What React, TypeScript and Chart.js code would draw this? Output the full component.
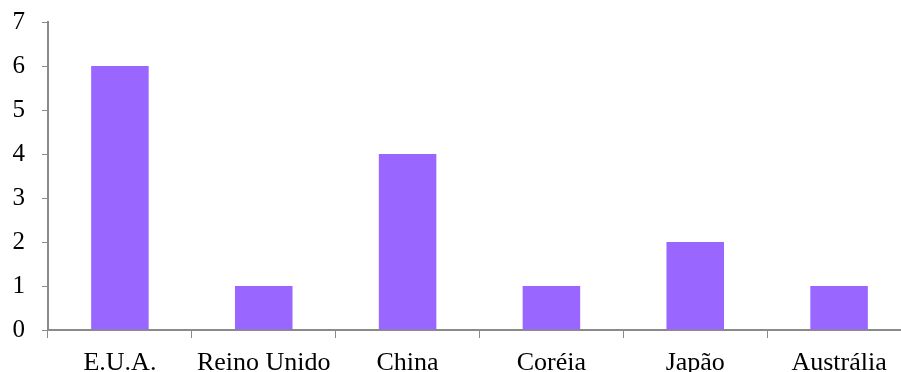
import React, { useEffect, useRef } from "react";
import { Chart, registerables } from "chart.js";

Chart.register(...registerables);

const categories = ["E.U.A.", "Reino Unido", "China", "Coréia", "Japão", "Austrália"];
const values = [6, 1, 4, 1, 2, 1];
const yTicks = [0, 1, 2, 3, 4, 5, 6, 7];

export default function App() {
  const ref = useRef<HTMLCanvasElement | null>(null);
  useEffect(() => {
    if (!ref.current) return;
    const chart = new Chart(ref.current, {
      type: "bar",
      data: {
        labels: categories,
        datasets: [
          {
            data: values,
            backgroundColor: "#9966FF",
            borderWidth: 0,
            barPercentage: 0.4,
            categoryPercentage: 1,
          },
        ],
      },
      options: {
        responsive: false,
        animation: false,
        layout: { padding: { top: 22, right: 9, left: 0, bottom: 0 } },
        plugins: { legend: { display: false }, tooltip: { enabled: false } },
        scales: {
          x: {
            offset: true,
            grid: {
              offset: true,
              drawOnChartArea: false,
              drawTicks: true,
              tickLength: 8,
              color: "#8a8a8a",
              lineWidth: 1,
            },
            border: { display: true, color: "#8a8a8a", width: 2 },
            ticks: {
              color: "#000",
              font: { family: "Liberation Serif", size: 26 },
              padding: 10,
              maxRotation: 0,
              autoSkip: false,
            },
            afterFit: (s: any) => {
              s.height = 50;
              s.paddingLeft = 0;
              s.paddingRight = 0;
            },
          },
          y: {
            min: 0,
            max: 7,
            afterBuildTicks: (s: any) => {
              s.ticks = yTicks.map((v) => ({ value: v }));
            },
            grid: {
              drawOnChartArea: false,
              drawTicks: true,
              tickLength: 6,
              color: "#8a8a8a",
            },
            border: { display: true, color: "#8a8a8a", width: 2 },
            ticks: {
              color: "#000",
              font: { family: "Liberation Serif", size: 25 },
              padding: 17,
            },
            afterFit: (s: any) => {
              s.width = 48;
              s.paddingTop = 0;
              s.paddingBottom = 0;
            },
          },
        },
      },
    });
    return () => chart.destroy();
  }, []);
  return (
    <div style={{ position: "fixed", left: 0, top: 0, width: 901, height: 372, overflow: "hidden", background: "#fff" }}>
      <canvas ref={ref} width={920} height={380} style={{ width: 920, height: 380, display: "block" }} />
    </div>
  );
}
